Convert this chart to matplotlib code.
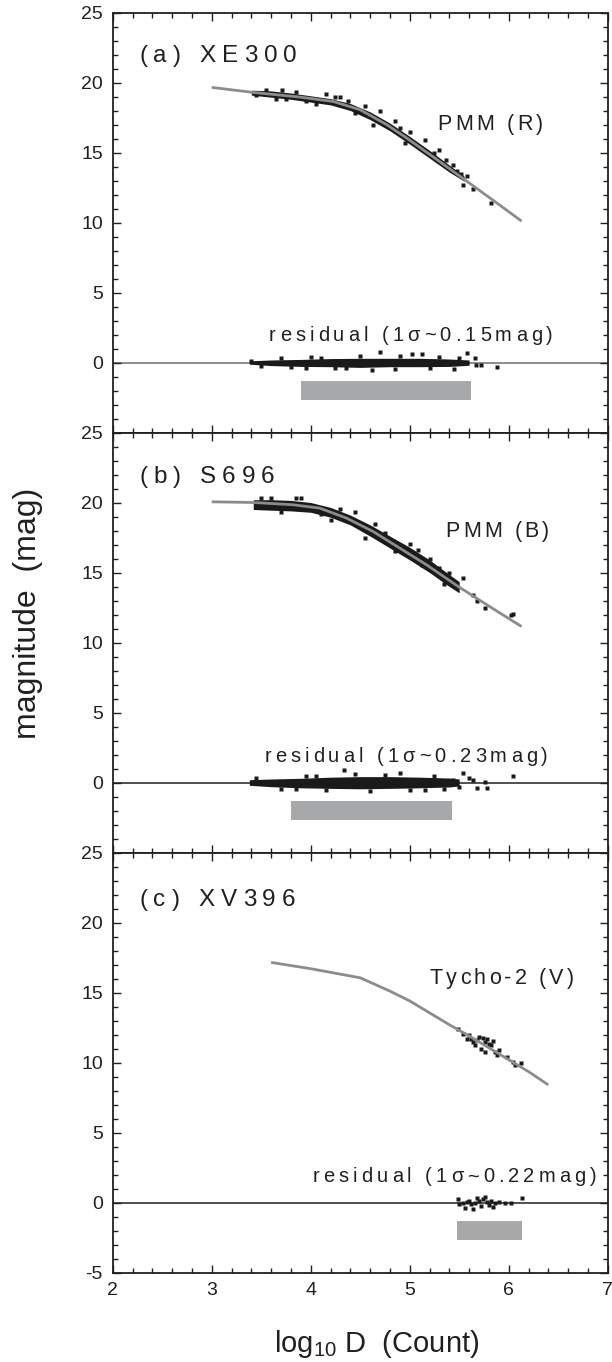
import matplotlib
matplotlib.use('Agg')
import matplotlib.pyplot as plt
from matplotlib.ticker import MultipleLocator
from matplotlib.font_manager import FontProperties, findfont, get_font

plt.rcParams['font.family'] = ['Liberation Sans', 'DejaVu Sans']
plt.rcParams['axes.unicode_minus'] = False

INK = '#231f20'
DOT = '#1a1a1a'
CURVE = '#8c8c8c'
BAR = '#a7a8aa'

# ---- data ----
# (a) XE300 / PMM (R)
curve_a_x = [3.0, 3.42, 3.89, 4.23, 4.5, 4.77, 4.97, 5.24, 5.51, 5.84, 6.13]
curve_a_y = [19.65, 19.29, 18.96, 18.64, 18.05, 16.98, 16.03, 14.67, 13.29, 11.6, 10.1]
cloud_a_x = [3.40, 3.6, 3.8, 4.0, 4.2, 4.4, 4.6, 4.8, 5.0, 5.2, 5.4, 5.55]
cloud_a_hi = [19.45, 19.4, 19.25, 19.05, 18.85, 18.5, 17.9, 17.1, 16.15, 15.15, 14.1, 13.3]
cloud_a_lo = [19.1, 18.95, 18.8, 18.6, 18.4, 18.0, 17.35, 16.55, 15.6, 14.6, 13.6, 12.95]
stars_a_x = [3.45, 3.71, 3.95, 4.30, 4.63, 4.70, 4.90, 5.00, 5.37, 5.44, 5.48, 5.52, 5.58, 5.54, 5.64, 5.82, 5.30, 4.15,
             3.55, 3.65, 3.85, 4.05, 4.25, 4.45, 4.55, 4.85, 5.10, 5.15, 5.25, 3.75, 4.38, 4.95]
stars_a_y = [19.1, 19.47, 18.7, 18.95, 16.98, 17.93, 16.74, 16.5, 14.48, 14.12, 13.7, 13.43, 13.31, 12.71, 12.36, 11.41, 15.2, 19.2,
             19.5, 18.85, 19.35, 18.5, 18.95, 17.85, 18.35, 17.25, 15.3, 15.9, 15.0, 18.8, 18.65, 15.65]
res_a_x = [3.38, 3.6, 3.9, 4.2, 4.5, 4.8, 5.1, 5.4, 5.6]
res_a_hi = [0.12, 0.18, 0.22, 0.28, 0.3, 0.3, 0.3, 0.25, 0.18]
res_a_lo = [-0.12, -0.22, -0.28, -0.3, -0.35, -0.3, -0.3, -0.28, -0.2]
resout_a_x = [4.70, 5.02, 5.12, 5.58, 5.66, 5.67, 5.72, 5.88, 4.62, 4.36, 3.40, 5.45,
              3.5, 3.7, 3.95, 4.1, 4.25, 4.5, 4.85, 5.3, 5.5, 3.8, 4.0, 4.9, 5.2]
resout_a_y = [0.75, 0.6, 0.6, 0.65, 0.35, -0.2, -0.2, -0.35, -0.55, -0.4, 0.1, -0.45,
              -0.25, 0.3, -0.4, 0.35, -0.4, 0.45, -0.45, 0.4, 0.35, -0.35, 0.4, 0.45, -0.4]

# (b) S696 / PMM (B)
curve_b_x = [3.0, 3.42, 3.82, 4.09, 4.36, 4.63, 4.90, 5.17, 5.49, 5.8, 6.13]
curve_b_y = [20.05, 20.0, 19.84, 19.6, 18.89, 17.93, 16.74, 15.55, 14.0, 12.6, 11.14]
cloud_b_x = [3.42, 3.6, 3.8, 4.0, 4.2, 4.4, 4.6, 4.8, 5.0, 5.2, 5.4, 5.5]
cloud_b_hi = [20.2, 20.2, 20.15, 20.0, 19.65, 19.1, 18.4, 17.6, 16.8, 15.9, 14.85, 14.35]
cloud_b_lo = [19.5, 19.45, 19.4, 19.3, 18.95, 18.4, 17.6, 16.75, 15.9, 15.0, 14.0, 13.55]
stars_b_x = [5.54, 5.4, 5.2, 5.08, 5.64, 5.68, 5.76, 6.02, 6.04, 4.45, 3.9, 4.75, 5.3,
             3.5, 3.7, 3.6, 4.1, 4.3, 4.55, 4.65, 4.85, 5.0, 5.12, 5.35, 3.85, 4.2]
stars_b_y = [14.6, 14.95, 16.0, 16.6, 13.4, 12.93, 12.45, 11.98, 12.05, 19.3, 20.35, 17.8, 15.3,
             20.3, 19.3, 20.3, 19.15, 19.55, 17.5, 18.5, 16.55, 17.05, 15.55, 14.2, 20.3, 18.75]
res_b_x = [3.38, 3.6, 3.9, 4.2, 4.5, 4.8, 5.1, 5.4, 5.5]
res_b_hi = [0.2, 0.25, 0.3, 0.38, 0.42, 0.42, 0.38, 0.32, 0.25]
res_b_lo = [-0.2, -0.3, -0.38, -0.42, -0.45, -0.42, -0.38, -0.32, -0.25]
resout_b_x = [5.44, 5.54, 5.64, 5.68, 5.76, 5.78, 6.04, 4.34, 5.5, 5.6,
              3.45, 3.7, 3.95, 4.15, 4.45, 4.6, 4.75, 5.0, 5.25, 5.35, 3.85, 4.05, 4.9, 5.15]
resout_b_y = [0.19, 0.67, 0.19, -0.4, 0.07, -0.4, 0.43, 0.9, -0.3, 0.3,
              0.3, -0.45, 0.45, -0.55, 0.6, -0.6, 0.55, -0.55, 0.5, -0.45, -0.45, 0.5, 0.65, -0.5]

# (c) XV396 / Tycho-2 (V)
curve_c_x = [3.6, 4.0, 4.5, 4.8, 5.0, 5.2, 5.4, 5.6, 5.8, 6.0, 6.2, 6.4]
curve_c_y = [17.15, 16.7, 16.05, 15.1, 14.4, 13.55, 12.7, 11.9, 11.05, 10.2, 9.35, 8.4]
stars_c_x = [5.49, 5.54, 5.60, 5.62, 5.64, 5.68, 5.70, 5.74, 5.76, 5.78, 5.80, 5.82,
             5.84, 5.86, 5.88, 5.90, 5.98, 6.04, 6.12, 6.06, 5.58, 5.66, 5.72, 5.76]
stars_c_y = [12.37, 12.06, 11.99, 11.70, 11.46, 11.58, 11.82, 11.75, 11.46, 11.65, 11.34, 11.22,
             11.51, 10.75, 10.51, 10.86, 10.39, 10.03, 9.98, 9.79, 11.70, 11.22, 10.98, 10.75]
resout_c_x = [5.49, 5.50, 5.54, 5.56, 5.60, 5.62, 5.64, 5.66, 5.70, 5.72, 5.74, 5.76,
              5.78, 5.80, 5.82, 5.84, 5.86, 5.90, 5.96, 6.02, 6.13, 5.68, 5.58]
resout_c_y = [0.24, -0.12, 0.0, -0.36, 0.12, -0.12, -0.48, 0.0, 0.12, -0.24, 0.24, 0.36,
              0.05, -0.19, 0.12, -0.29, -0.05, 0.05, 0.0, -0.05, 0.29, 0.29, 0.05]

# grey bars under the residuals
bar_start = [3.905, 3.80, 5.48]
bar_end = [5.62, 5.43, 6.13]
bar_top = -1.3
bar_bottom = -2.65

panel_titles = ['(a) XE300', '(b) S696', '(c) XV396']
curve_names = ['PMM (R)', 'PMM (B)', 'Tycho-2 (V)']
residual_texts = ['residual (1\u03c3~0.15mag)', 'residual (1\u03c3~0.23mag)', 'residual (1\u03c3~0.22mag)']


def spaced_text(ax, x, y, s, size, track):
    # matplotlib has no letter spacing, so place glyph by glyph
    fp = FontProperties(family='Liberation Sans', size=size)
    font = get_font(findfont(fp))
    font.set_size(size, 72)
    dx = 0.0
    for ch in s:
        ax.annotate(ch, (x, y), xytext=(dx, 0), textcoords='offset points',
                    fontproperties=fp, ha='left', va='baseline', color=INK)
        g = font.load_char(ord(ch))
        dx += g.linearHoriAdvance / 65536 + track


fig = plt.figure(figsize=(6.12, 13.62), dpi=100)
H = 1362.0
left = 112.7 / 612
width = 495.0 / 612
ph = 420.0
top0 = 12.5

panels = [
    (curve_a_x, curve_a_y, cloud_a_x, cloud_a_hi, cloud_a_lo, stars_a_x, stars_a_y,
     res_a_x, res_a_hi, res_a_lo, resout_a_x, resout_a_y),
    (curve_b_x, curve_b_y, cloud_b_x, cloud_b_hi, cloud_b_lo, stars_b_x, stars_b_y,
     res_b_x, res_b_hi, res_b_lo, resout_b_x, resout_b_y),
    (curve_c_x, curve_c_y, None, None, None, stars_c_x, stars_c_y,
     None, None, None, resout_c_x, resout_c_y),
]
title_base = [21.5, 21.4, 21.2]
name_pos = [(5.28, 16.63), (5.36, 17.57), (5.2, 15.6)]
res_pos = [(3.58, 1.54), (3.53, 1.5), (4.02, 1.43)]
zero_col = ['#6e6e6e', INK, INK]

for i, p in enumerate(panels):
    (cx, cy, bx, bhi, blo, sx, sy, rx, rhi, rlo, ox, oy) = p
    bottom = 1 - (top0 + ph * (i + 1)) / H
    ax = fig.add_axes([left, bottom, width, ph / H])
    ax.set_xlim(2, 7)
    ax.set_ylim(-5, 25)

    ax.axhline(0, color=zero_col[i], lw=1.1, zorder=1)
    ax.broken_barh([(bar_start[i], bar_end[i] - bar_start[i])],
                   (bar_bottom, bar_top - bar_bottom), facecolors=BAR, zorder=1)
    if bx is not None:
        ax.fill_between(bx, blo, bhi, color=DOT, lw=0, zorder=2)
        ax.fill_between(rx, rlo, rhi, color=DOT, lw=0, zorder=2)
    ax.plot(sx, sy, 's', ms=2.2, color=DOT, mec='none', zorder=2)
    ax.plot(ox, oy, 's', ms=2.2, color=DOT, mec='none', zorder=2)
    ax.plot(cx, cy, '-', color=CURVE, lw=2.0, zorder=3, solid_capstyle='butt')

    spaced_text(ax, 2.27, title_base[i], panel_titles[i], 17.5, 4.3)
    spaced_text(ax, name_pos[i][0], name_pos[i][1], curve_names[i], 15.5, 2.3)
    spaced_text(ax, res_pos[i][0], res_pos[i][1], residual_texts[i], 14.5, 2.9)

    ax.xaxis.set_major_locator(MultipleLocator(1))
    ax.xaxis.set_minor_locator(MultipleLocator(0.2))
    ax.set_yticks([-5, 0, 5, 10, 15, 20, 25])
    ax.yaxis.set_minor_locator(MultipleLocator(1))
    if i < 2:
        ax.set_yticklabels(['', '0', '5', '10', '15', '20', '25'])
        ax.tick_params(axis='x', labelbottom=False)
    else:
        ax.set_yticklabels(['-5', '0', '5', '10', '15', '20', '25'])
    ax.tick_params(which='both', direction='in', top=True, right=True,
                   colors=INK, labelsize=14, pad=7, width=1.0)
    ax.tick_params(which='major', length=6)
    ax.tick_params(which='minor', length=3.5)
    for s in ax.spines.values():
        s.set_linewidth(1.3)
        s.set_color(INK)

fig.text(28 / 612, 1 - 613 / H, 'magnitude  (mag)', rotation=90, fontsize=23,
         ha='center', va='center', color=INK)
fig.text(377 / 612, 9.5 / H, r'log$_{\mathregular{10}}$ D  (Count)', fontsize=21,
         ha='center', va='baseline', color=INK)

fig.savefig('out.png', dpi=100)
